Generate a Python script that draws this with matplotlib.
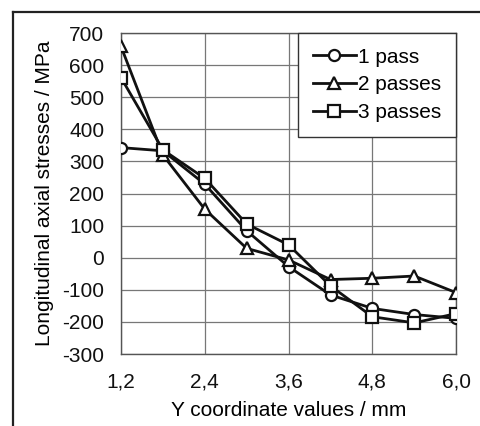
import matplotlib
matplotlib.use("Agg")
import matplotlib.pyplot as plt
from matplotlib.lines import Line2D

plt.rcParams["font.family"] = ["Liberation Sans", "DejaVu Sans"]
plt.rcParams["axes.unicode_minus"] = False

# data
y_coord = [1.2, 1.8, 2.4, 3.0, 3.6, 4.2, 4.8, 5.4, 6.0]
one_pass = [343, 333, 229, 84, -28, -116, -158, -177, -189]
two_passes = [658, 320, 151, 29, -7, -68, -64, -57, -109]
three_passes = [561, 336, 247, 105, 40, -88, -184, -203, -174]

x_ticks = [1.2, 2.4, 3.6, 4.8, 6.0]
x_ticklabels = ["1,2", "2,4", "3,6", "4,8", "6,0"]
y_ticks = list(range(-300, 701, 100))

FS = 15

fig = plt.figure(figsize=(4.81, 4.26), dpi=100)
fig.patch.set_facecolor("white")
ax = fig.add_axes([0.2516, 0.169, 0.9485 - 0.2516, 0.9225 - 0.169])

series = [
    (one_pass, "o", "1 pass"),
    (two_passes, "^", "2 passes"),
    (three_passes, "s", "3 passes"),
]
for vals, mk, lab in series:
    ax.plot(y_coord, vals, color="#111111", lw=2.0, marker=mk,
            markersize=8, markerfacecolor="white", markeredgecolor="#111111",
            markeredgewidth=1.6, label=lab, zorder=3)

ax.set_xlim(1.2, 6.0)
ax.set_ylim(-300, 700)
ax.set_xticks(x_ticks)
ax.set_xticklabels(x_ticklabels)
ax.set_yticks(y_ticks)
ax.tick_params(axis="both", length=0, labelsize=FS, colors="#111111")
ax.tick_params(axis="x", pad=13)
ax.tick_params(axis="y", pad=12)
ax.grid(True, color="#777777", lw=0.9, zorder=0)
for sp in ax.spines.values():
    sp.set_color("#555555")
    sp.set_linewidth(1.0)

ax.set_ylabel("Longitudinal axial stresses / MPa", fontsize=FS, labelpad=6)
ax.set_xlabel("Y coordinate values / mm", fontsize=FS, labelpad=7)

leg = ax.legend(loc="upper right", fontsize=FS, frameon=True, fancybox=False,
                edgecolor="#333333", framealpha=1.0, borderaxespad=0,
                handlelength=2.1, handletextpad=0.1, labelspacing=0.42,
                borderpad=0.7)
leg.get_frame().set_linewidth(1.0)

# outer frame (left and top edges)
fig.add_artist(Line2D([13 / 481, 13 / 481], [0, 1 - 12 / 426],
                      transform=fig.transFigure, color="#222222", lw=1.6))
fig.add_artist(Line2D([13 / 481, 1], [1 - 12 / 426, 1 - 12 / 426],
                      transform=fig.transFigure, color="#222222", lw=1.6))

fig.savefig("out.png", dpi=100, facecolor="white")
